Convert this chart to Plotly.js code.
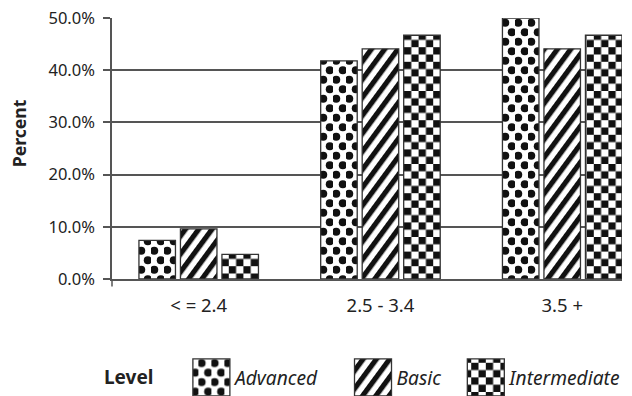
<!DOCTYPE html>
<html>
<head>
<meta charset="utf-8">
<script src="https://cdn.plot.ly/plotly-3.0.1.min.js"></script>
<style>
  html, body { margin: 0; padding: 0; background: #fff; }
  #chart { width: 632px; height: 396px; }
</style>
</head>
<body>
<div id="chart"></div>
<script>
// GPA bands on the x axis, share of students per level on the y axis
const categories = ['< = 2.4', '2.5 - 3.4', '3.5 +'];
const levels = ['Advanced', 'Basic', 'Intermediate'];
const advanced = [0.074, 0.418, 0.500];
const basic = [0.096, 0.441, 0.441];
const intermediate = [0.047, 0.467, 0.467];
const yTicks = [0, 0.1, 0.2, 0.3, 0.4, 0.5];

const ink = '#222222';
const rule = '#555555';
const font = 'Noto Sans, Open Sans, DejaVu Sans, sans-serif';

const seriesValues = [advanced, basic, intermediate];
const fallbackShapes = ['.', '/', '+'];
const legendIds = ['legend', 'legend2', 'legend3'];
const legendX = [0.1488, 0.4657, 0.6869];

const traces = levels.map((name, i) => ({
  type: 'bar',
  name: name,
  legend: legendIds[i],
  x: categories,
  y: seriesValues[i],
  marker: {
    color: '#ffffff',
    line: { color: '#333333', width: 1.3 },
    pattern: { shape: fallbackShapes[i], fgcolor: '#111111', bgcolor: '#ffffff', size: 12, solidity: 0.45 }
  },
  hovertemplate: '%{x}: %{y:.1%}<extra>' + name + '</extra>'
}));

function legendBox(x) {
  return {
    orientation: 'h',
    x: x,
    xanchor: 'left',
    y: -0.377,
    yanchor: 'middle',
    bgcolor: 'rgba(0,0,0,0)',
    borderwidth: 0,
    itemwidth: 37,
    itemclick: false,
    itemdoubleclick: false,
    font: { size: 19.2, color: ink, style: 'italic', family: font }
  };
}

const layout = {
  width: 632,
  height: 396,
  margin: { l: 112, r: 10, t: 18, b: 117, autoexpand: false },
  paper_bgcolor: '#ffffff',
  plot_bgcolor: '#ffffff',
  font: { family: font, color: ink, size: 16 },
  barmode: 'group',
  bargap: 0.315,
  bargroupgap: 0.12,
  showlegend: true,
  xaxis: {
    type: 'category',
    range: [-0.477, 2.329],
    showgrid: false,
    zeroline: false,
    showline: true,
    linecolor: rule,
    linewidth: 1.5,
    ticks: '',
    tickfont: { size: 18.5, color: ink },
    ticklabelstandoff: 9
  },
  yaxis: {
    range: [0, 0.5],
    tickvals: yTicks,
    tickformat: '.1%',
    showgrid: true,
    gridcolor: rule,
    gridwidth: 1.5,
    zeroline: false,
    showline: true,
    linecolor: rule,
    linewidth: 1.5,
    ticks: 'outside',
    ticklen: 7,
    tickwidth: 1.5,
    tickcolor: rule,
    tickfont: { size: 16.5, color: ink },
    ticklabelstandoff: 5
  },
  shapes: [
    // the value axis runs a little past the baseline
    { type: 'line', xref: 'paper', yref: 'paper', x0: 0, x1: 0, y0: 0, y1: -0.029,
      line: { color: rule, width: 1.5 } }
  ],
  annotations: [
    { text: '<b>Percent</b>', xref: 'paper', yref: 'paper', x: -0.183, y: 0.557,
      xanchor: 'center', yanchor: 'middle', textangle: -90, showarrow: false,
      font: { size: 17.6, color: ink, family: font } },
    { text: '<b>Level</b>', xref: 'paper', yref: 'paper', x: -0.0196, y: -0.3755,
      xanchor: 'left', yanchor: 'middle', showarrow: false,
      font: { size: 19, color: ink, family: font } }
  ],
  legend: legendBox(legendX[0]),
  legend2: legendBox(legendX[1]),
  legend3: legendBox(legendX[2])
};

// Fill patterns: staggered dots, slanted stripes, checkerboard
const NS = 'http://www.w3.org/2000/svg';
function el(tag, attrs) {
  const n = document.createElementNS(NS, tag);
  for (const k in attrs) n.setAttribute(k, attrs[k]);
  return n;
}
function buildPatterns(defs) {
  const ids = ['fill-dots', 'fill-stripes', 'fill-checks'];
  const dots = el('pattern', { id: ids[0], patternUnits: 'userSpaceOnUse', width: 13, height: 19 });
  dots.appendChild(el('rect', { x: 0, y: 0, width: 13, height: 19, fill: '#fff' }));
  dots.appendChild(el('circle', { cx: 3.25, cy: 4.75, r: 4, fill: '#111' }));
  dots.appendChild(el('circle', { cx: 9.75, cy: 14.25, r: 4, fill: '#111' }));

  const stripes = el('pattern', { id: ids[1], patternUnits: 'userSpaceOnUse', width: 10.7, height: 10.7,
    patternTransform: 'rotate(36.4)' });
  stripes.appendChild(el('rect', { x: 0, y: 0, width: 10.7, height: 10.7, fill: '#fff' }));
  stripes.appendChild(el('rect', { x: 0, y: 0, width: 5.2, height: 10.7, fill: '#111' }));

  const c = 7.3;
  const checks = el('pattern', { id: ids[2], patternUnits: 'userSpaceOnUse', width: 2 * c, height: 2 * c });
  checks.appendChild(el('rect', { x: 0, y: 0, width: 2 * c, height: 2 * c, fill: '#fff' }));
  checks.appendChild(el('rect', { x: 0, y: 0, width: c, height: c, fill: '#111' }));
  checks.appendChild(el('rect', { x: c, y: c, width: c, height: c, fill: '#111' }));

  [dots, stripes, checks].forEach(p => defs.appendChild(p));
  return ids;
}

const gd = document.getElementById('chart');
Plotly.newPlot(gd, traces, layout, { displayModeBar: false }).then(() => {
  const defs = gd.querySelector('svg.main-svg defs');
  const ids = buildPatterns(defs);

  gd.querySelectorAll('.barlayer .trace').forEach((t, i) => {
    t.querySelectorAll('path').forEach(p => { p.style.fill = 'url(#' + ids[i] + ')'; });
  });

  gd.querySelectorAll('.traces').forEach(t => {
    const d = t.__data__;
    const tr = d && d[0] && d[0].trace;
    const i = tr ? levels.indexOf(tr.name) : -1;
    if (i < 0) return;
    const p = t.querySelector('path.legendbar') || t.querySelector('.legendpoints path');
    if (!p) return;
    p.setAttribute('d', 'M18.5,18.5H-18.5V-18.5H18.5Z');
    p.style.fill = 'url(#' + ids[i] + ')';
    p.style.stroke = '#333333';
    p.style.strokeWidth = '1.3px';
  });

  gd.querySelectorAll('.scrollbox').forEach(sb => sb.removeAttribute('clip-path'));
});
</script>
</body>
</html>
